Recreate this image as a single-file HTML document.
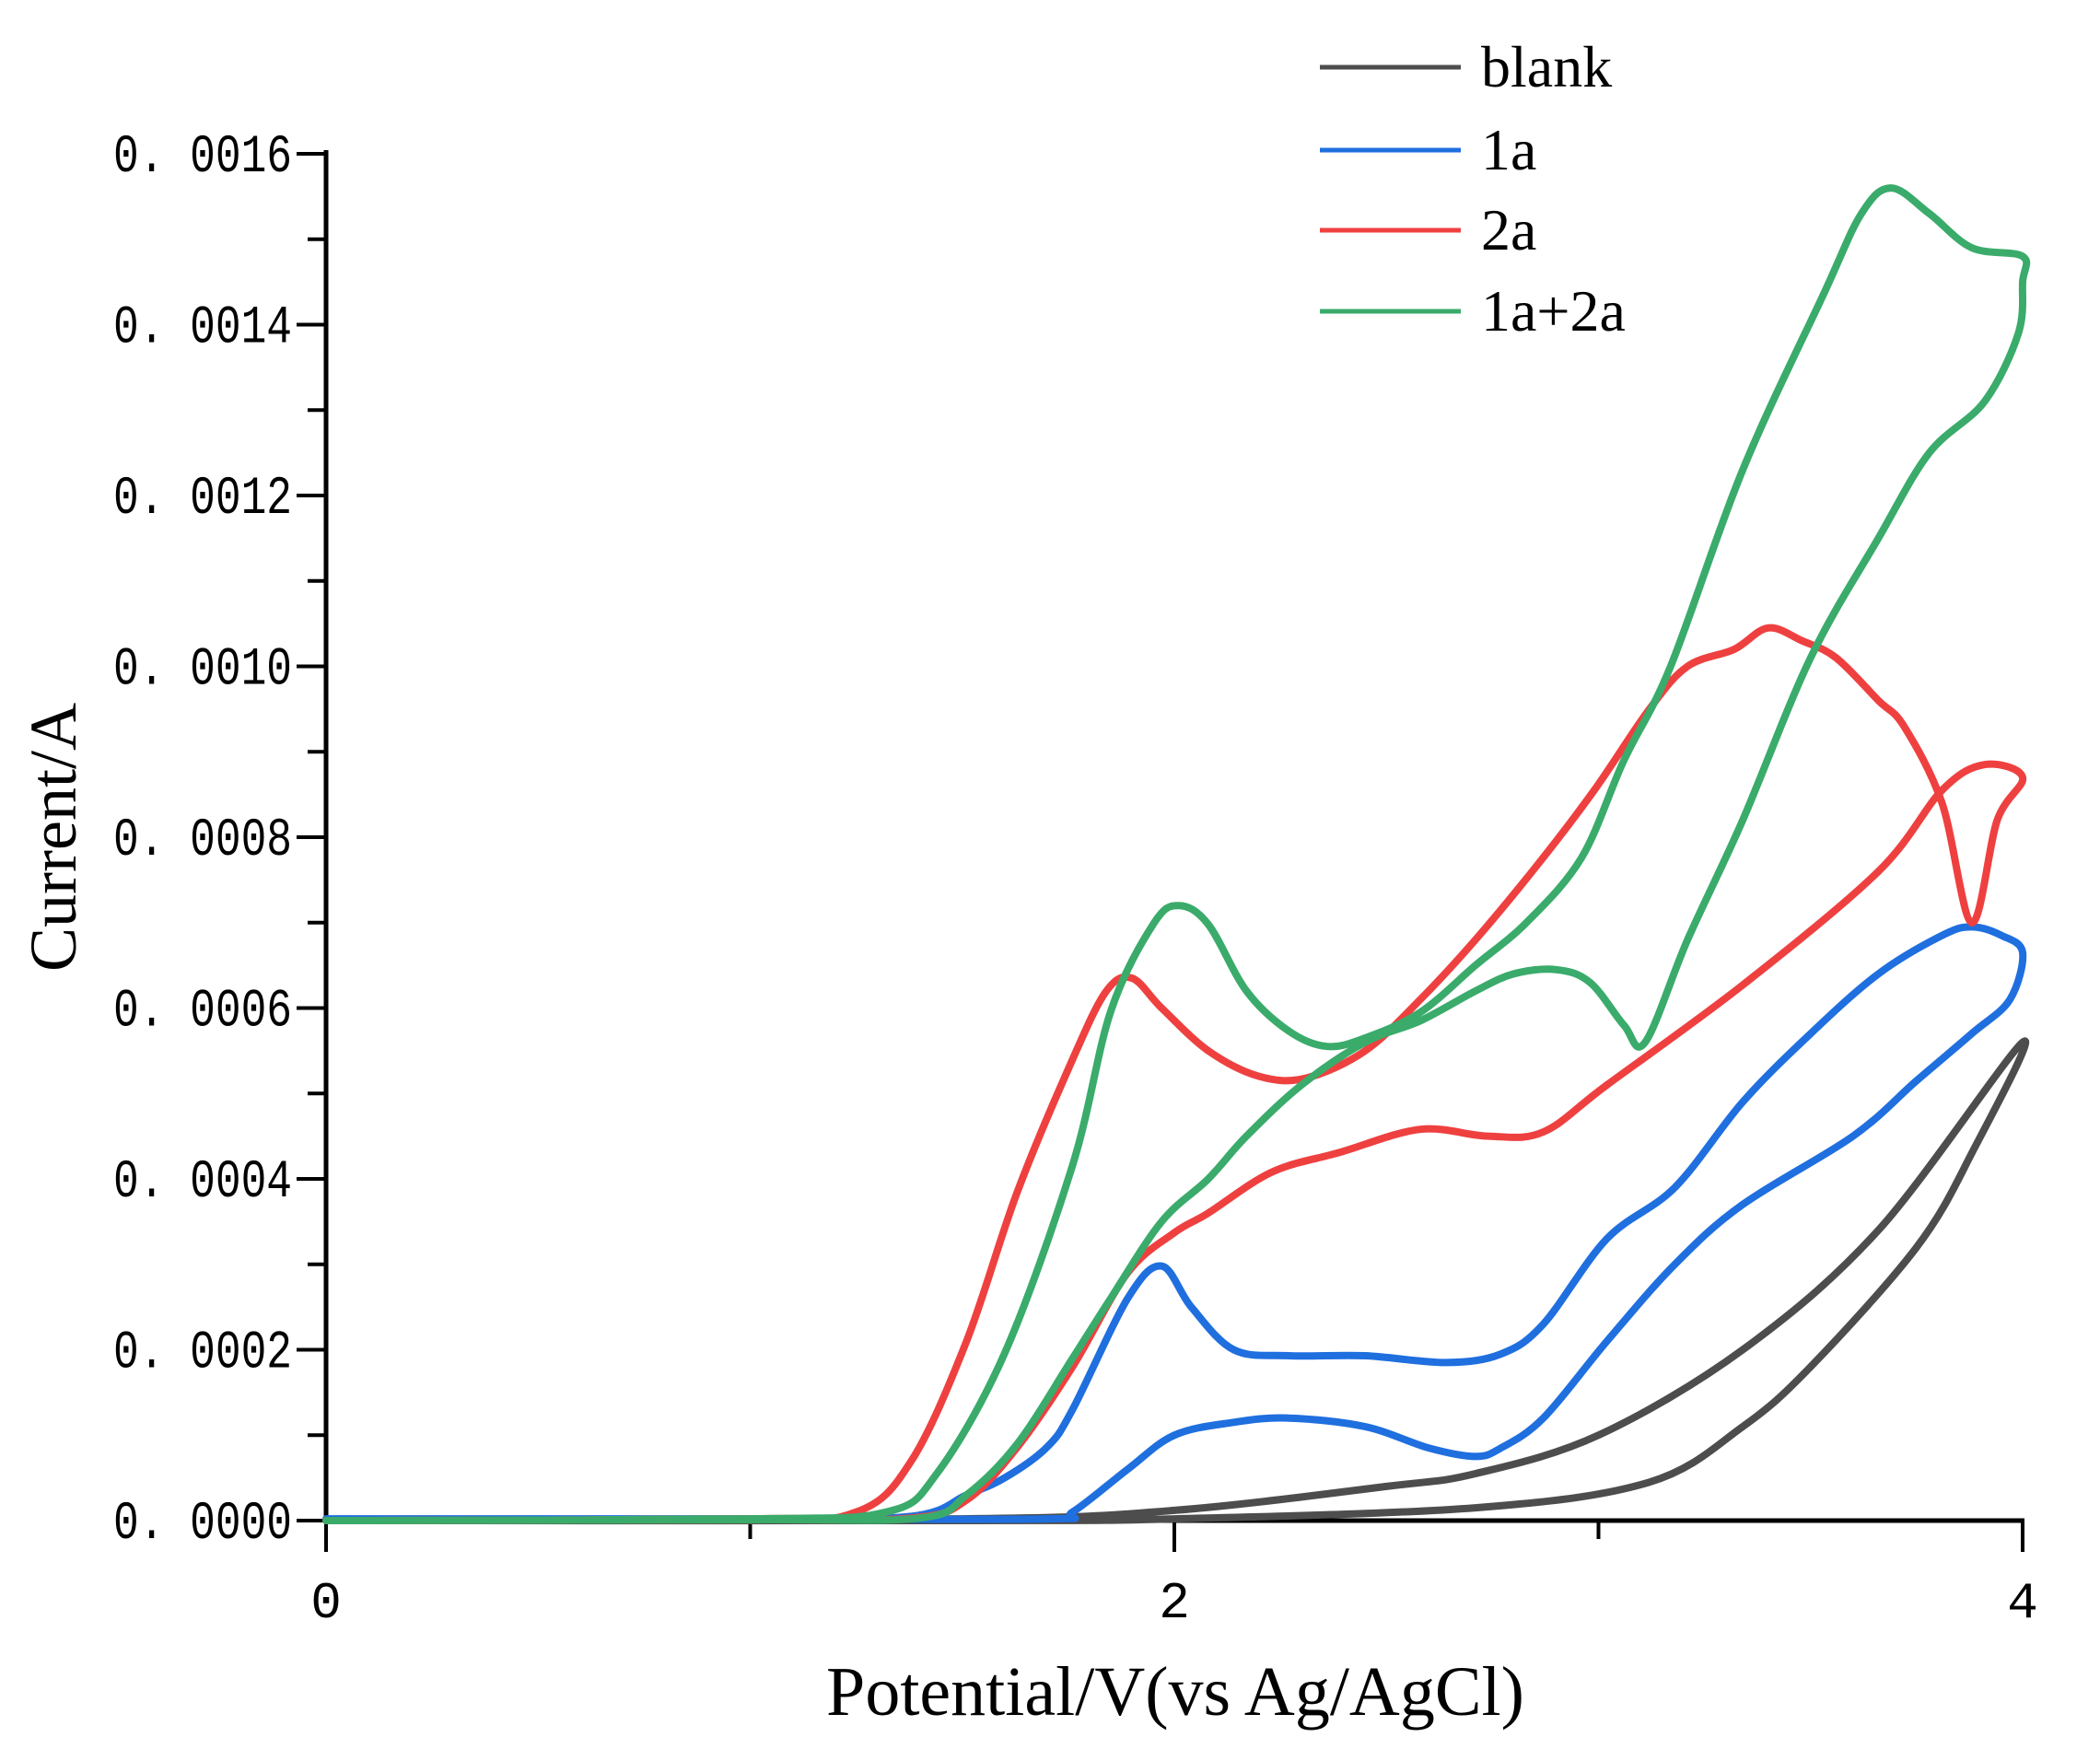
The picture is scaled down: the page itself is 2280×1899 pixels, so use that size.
<!DOCTYPE html>
<html><head><meta charset="utf-8"><style>
html,body{margin:0;padding:0;background:#fff;}
svg{display:block;}
</style></head><body>
<svg id="chart" width="2280" height="1899" viewBox="0 0 2280 1899" xmlns="http://www.w3.org/2000/svg">
<g id="axes"></g>
<g id="series"></g>
<g id="legend"></g>
<text x="1276" y="1862" text-anchor="middle" font-family="Liberation Serif, serif" font-size="76">Potential/V(vs Ag/AgCl)</text>
<text transform="translate(82,909) rotate(-90)" text-anchor="middle" font-family="Liberation Serif, serif" font-size="72">Current/A</text>
</svg>
<script>
// data (V, current in units of 1e-4 A)
const yTicks = [0, 2, 4, 6, 8, 10, 12, 14, 16];
const yTickLabels = ["0. 0000","0. 0002","0. 0004","0. 0006","0. 0008","0. 0010","0. 0012","0. 0014","0. 0016"];
const xTicks = [0, 2, 4];
const xTickLabels = ["0","2","4"];
const seriesNames = ["blank","1a","2a","1a+2a"];
const blank = [[0,0],[1.5,0.02],[2.0,0.12],[2.5,0.4],[2.71,0.55],[3.0,1.0],[3.34,2.0],[3.66,3.4],[4.0,5.6],[3.88,4.3],[3.75,3.2],[3.5,1.8],[3.34,1.1],[3.12,0.45],[2.71,0.15],[2.0,0.02],[1.5,0],[0,0]];
const s1a = [[0,0.02],[1.0,0.02],[1.38,0.05],[1.51,0.3],[1.6,0.5],[1.7,0.86],[1.76,1.3],[1.89,2.6],[1.97,2.98],[2.04,2.5],[2.14,2.0],[2.27,1.93],[2.45,1.93],[2.64,1.85],[2.77,1.95],[2.87,2.3],[3.02,3.3],[3.18,3.9],[3.34,4.9],[3.5,5.7],[3.66,6.4],[3.81,6.85],[3.88,6.95],[3.95,6.85],[4.0,6.65],[3.97,6.1],[3.88,5.7],[3.75,5.15],[3.6,4.5],[3.34,3.7],[3.18,3.0],[3.02,2.1],[2.87,1.2],[2.77,0.85],[2.71,0.75],[2.6,0.85],[2.45,1.1],[2.27,1.2],[2.14,1.15],[2.0,1.0],[1.89,0.6],[1.76,0.1],[1.7,0.02],[1.0,0.02],[0,0.02]];
const s2a = [[0,0],[1.0,0.02],[1.25,0.1],[1.38,0.7],[1.51,2.1],[1.63,3.85],[1.76,5.4],[1.84,6.2],[1.9,6.35],[1.97,6.0],[2.08,5.5],[2.2,5.2],[2.31,5.18],[2.45,5.5],[2.58,6.1],[2.71,6.8],[2.86,7.7],[2.99,8.55],[3.12,9.5],[3.21,10.0],[3.32,10.2],[3.4,10.45],[3.48,10.3],[3.56,10.1],[3.66,9.6],[3.72,9.3],[3.81,8.4],[3.88,7.0],[3.94,8.2],[4.0,8.7],[3.91,8.85],[3.81,8.55],[3.66,7.6],[3.34,6.27],[3.02,5.1],[2.87,4.55],[2.74,4.5],[2.58,4.58],[2.39,4.31],[2.23,4.08],[2.08,3.6],[2.0,3.37],[1.89,2.9],[1.76,1.8],[1.63,0.86],[1.51,0.24],[1.38,0.03],[1.0,0.01],[0,0]];
const s1a2a = [[0,0],[1.0,0.02],[1.32,0.1],[1.44,0.55],[1.6,1.96],[1.76,4.16],[1.85,5.96],[1.95,6.98],[2.01,7.2],[2.08,6.98],[2.17,6.2],[2.27,5.73],[2.36,5.55],[2.45,5.65],[2.58,5.95],[2.71,6.5],[2.83,7.0],[2.96,7.76],[3.06,8.9],[3.17,10.0],[3.34,12.3],[3.53,14.35],[3.62,15.3],[3.69,15.6],[3.78,15.3],[3.88,14.9],[4.0,14.8],[4.0,14.5],[3.99,13.9],[3.91,13.1],[3.78,12.5],[3.66,11.5],[3.5,10.1],[3.34,8.2],[3.21,6.8],[3.11,5.6],[3.06,5.8],[2.98,6.3],[2.9,6.45],[2.8,6.4],[2.71,6.2],[2.58,5.85],[2.45,5.6],[2.3,5.1],[2.17,4.5],[2.08,4.0],[1.97,3.5],[1.85,2.6],[1.76,1.9],[1.63,0.9],[1.51,0.3],[1.4,0.03],[1.0,0.01],[0,0]];

const NS="http://www.w3.org/2000/svg";
const X0=354, X1=2196, Y0=1651, Y1=167;
function xs(v){return X0+(v/4)*(X1-X0);}
function ys(i){return Y0-(i/16)*(Y0-Y1);}
function mk(tag,attrs,parent){const e=document.createElementNS(NS,tag);for(const k in attrs)e.setAttribute(k,attrs[k]);parent.appendChild(e);return e;}
const axes=document.getElementById('axes');
let e;
e=mk('line',{x1:X0,y1:Y1-4,x2:X0,y2:Y0+2,stroke:'#000','stroke-width':5},axes);


e=mk('line',{x1:X0-2,y1:Y0,x2:X1+2,y2:Y0,stroke:'#000','stroke-width':5},axes);


yTicks.forEach((t,i)=>{
  const y=ys(t);
  let l=mk('line',{x1:X0-32,y1:y,x2:X0,y2:y,stroke:'#000','stroke-width':4},axes);
  
  
  let tx=mk('text',{x:317,y:y+19,'text-anchor':'end','font-family':'Liberation Mono, monospace','font-size':58,textLength:194,lengthAdjust:'spacingAndGlyphs'},axes);
  tx.textContent=yTickLabels[i];
  
  
  if(i<yTicks.length-1){
    const ym=ys(t+1);
    let m=mk('line',{x1:X0-20,y1:ym,x2:X0,y2:ym,stroke:'#000','stroke-width':4},axes);
    
    
  }
});
xTicks.forEach((t,i)=>{
  const x=xs(t);
  let l=mk('line',{x1:x,y1:Y0,x2:x,y2:Y0+34,stroke:'#000','stroke-width':4},axes);
  
  
  let tx=mk('text',{x:x,y:1756,'text-anchor':'middle','font-family':'Liberation Mono, monospace','font-size':56},axes);
  tx.textContent=xTickLabels[i];
  
  
  if(i<xTicks.length-1){
    const xm=xs(t+1);
    let m=mk('line',{x1:xm,y1:Y0,x2:xm,y2:Y0+20,stroke:'#000','stroke-width':4},axes);
    
    
  }
});
function pathD(pts){
  const p=pts.map(q=>[xs(q[0]),ys(q[1])]);
  let d='M'+p[0][0].toFixed(1)+','+p[0][1].toFixed(1);
  for(let i=0;i<p.length-1;i++){
    const a=p[Math.max(0,i-1)],b=p[i],c=p[i+1],dd=p[Math.min(p.length-1,i+2)];
    const c1=[b[0]+(c[0]-a[0])/6,b[1]+(c[1]-a[1])/6];
    const c2=[c[0]-(dd[0]-b[0])/6,c[1]-(dd[1]-b[1])/6];
    d+=' C'+c1[0].toFixed(1)+','+c1[1].toFixed(1)+' '+c2[0].toFixed(1)+','+c2[1].toFixed(1)+' '+c[0].toFixed(1)+','+c[1].toFixed(1);
  }
  return d;
}
const colors=['#4d4d4d','#1f6fdf','#ef4040','#3aab6b'];
const allSeries=[blank,s1a,s2a,s1a2a];
const sg=document.getElementById('series');
const names=['series-blank','series-1a','series-2a','series-1a-2a'];
allSeries.forEach((s,i)=>{
  const p=mk('path',{d:pathD(s),fill:'none',stroke:colors[i],'stroke-width':8,'stroke-linejoin':'round','stroke-linecap':'round'},sg);
  
  
});
const lg=document.getElementById('legend');
const ly=[73,163,250,338];
seriesNames.forEach((n,i)=>{
  const l=mk('line',{x1:1433,y1:ly[i],x2:1586,y2:ly[i],stroke:colors[i],'stroke-width':5},lg);
  
  
  const t=mk('text',{x:1608,y:ly[i]+21,'font-family':'Liberation Serif, serif','font-size':64},lg);
  t.textContent=n;
  
  
});
</script>
</body></html>
